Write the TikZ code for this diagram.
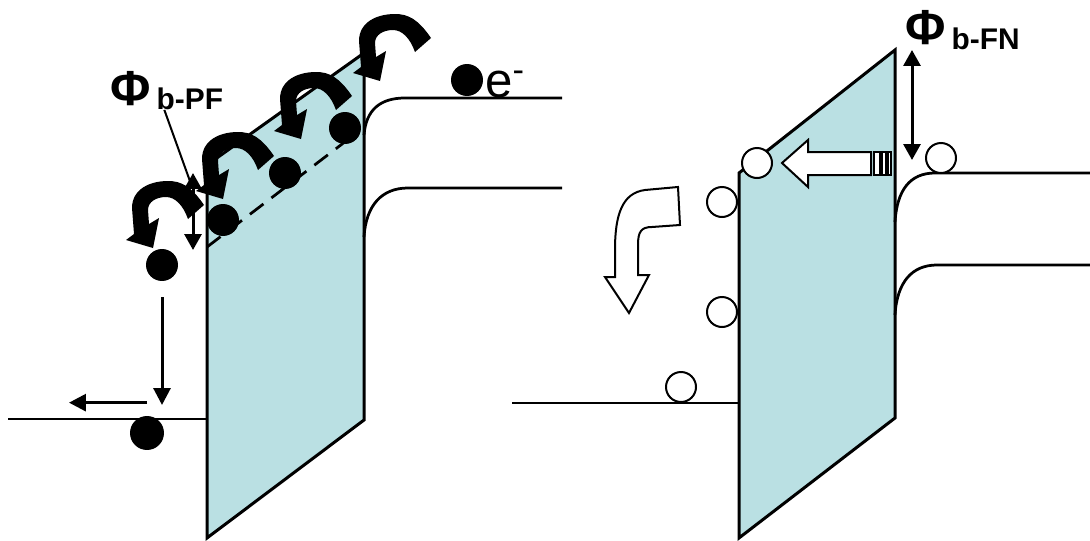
\documentclass[tikz,border=0pt]{standalone}
\usepackage{fontspec}
\setmainfont{Liberation Sans}
\usepackage{tikz}
\usetikzlibrary{arrows.meta, positioning, calc}
\definecolor{oxide}{RGB}{186,224,227}

\begin{document}
\begin{tikzpicture}[
    x=0.02cm, y=-0.02cm,
    oxidebox/.style={draw, line width=0.06cm, fill=oxide, line join=miter},
    bandline/.style={line width=0.055cm},
    electron/.style={circle, fill=black, inner sep=0pt, minimum size=0.64cm},
    hole/.style={circle, draw, fill=white, line width=0.04cm, inner sep=0pt, minimum size=0.6cm},
    arrow/.style={-{Triangle[width=0.34cm, length=0.34cm]}, line width=0.06cm},
    barrier/.style={{Triangle[width=0.34cm, length=0.32cm]}-{Triangle[width=0.34cm, length=0.32cm]}, line width=0.06cm},
    blockarrow/.style={draw, fill=white, line width=0.04cm, line join=miter},
    bigphi/.style={inner sep=0pt, font=\fontsize{28}{28}\selectfont\bfseries},
    subtxt/.style={inner sep=0pt, font=\fontsize{17}{17}\selectfont\bfseries},
    hop/.pic={
        \fill (8,-7) .. controls (-5,-26) and (-15,-31) .. (-28,-31)
            .. controls (-46,-31) and (-64,-23) .. (-64,-4) -- (-62,22)
            -- (-70,28) -- (-43,36) -- (-37,6) -- (-47,12) -- (-48,-2)
            .. controls (-48,-10) and (-40,-15) .. (-30,-15)
            .. controls (-21,-15) and (-13,-7) .. (-8,7) -- cycle;
    }
]
\useasboundingbox (0,0) rectangle (1090,541);

% Poole-Frenkel side
\draw[oxidebox] (207,165) -- (364,53) -- (364,420) -- (207,538) -- cycle;
\draw[bandline] (8,419) -- (207,419);
\draw[bandline] (364,135) .. controls (366,110) and (380,98) .. (405,98) -- (562,98);
\draw[bandline] (364,237) .. controls (366,205) and (382,188) .. (408,188) -- (562,188);
\draw[bandline, dash pattern=on 0.34cm off 0.2cm] (207,247) -- (350,138);

\pic at (196,212) {hop};
\pic at (266,163) {hop};
\pic at (344,103) {hop};
\pic at (423,45) {hop};

\node[electron] (trapA) at (223,220) {};
\node[electron] (trapB) at (285,173) {};
\node[electron] (trapC) at (345,128) {};
\node[electron] (free) at (162,265) {};
\node[electron, minimum size=0.68cm] (metal) at (147,433) {};
\node[electron] (cond) at (467,80) {};
\node[inner sep=0pt, anchor=base west, font=\fontsize{28}{28}\selectfont] (elabel) at (485,97) {e\textsuperscript{-}};

\coordinate (landing) at (162,405);
\draw[arrow] ([yshift=-0.32cm]free.south) -- (landing);
\draw[arrow] ([yshift=0.26cm]metal.north) -- ++(-78,0);

\coordinate (pfTop) at (193,173);
\coordinate (pfBot) at (193,250);
\coordinate (pfPoint) at (191,184);
\draw[barrier] (pfTop) -- (pfBot);
\node[bigphi, anchor=base west] (phiPF) at (110,105) {Φ};
\node[subtxt, base right=3pt of phiPF, yshift=-2.8pt] (subPF) {b-PF};
\draw[line width=0.04cm] ([xshift=0.16cm]subPF.base west) -- (pfPoint);

% Fowler-Nordheim side
\draw[oxidebox] (739,173) -- (895,50) -- (895,418) -- (739,538) -- cycle;
\draw[bandline] (512,403) -- (739,403);
\draw[bandline] (895,222) .. controls (897,190) and (910,173) .. (935,173) -- (1090,173);
\draw[bandline] (895,315) .. controls (897,282) and (912,265) .. (937,265) -- (1090,265);

\node[hole] (hTop) at (757,163) {};
\node[hole] (hMid) at (722,202) {};
\node[hole] (hLow) at (722,312) {};
\node[hole] (hGate) at (681,387) {};
\node[hole] (hSi) at (941,158) {};

\draw[blockarrow] (782,163) -- (808,140) -- (808,152) -- (871,152) -- (871,175)
    -- (808,175) -- (808,187) -- cycle;
\foreach \a/\b in {874/880, 882/886, 888/891}
    \draw[blockarrow, line width=0.03cm] (\a,152) rectangle (\b,175);

\draw[blockarrow] (678,187) -- (645,190) .. controls (622,193) and (615,215) .. (615,250)
    -- (615,277) -- (605,277) -- (629,313) -- (649,275) -- (638,275) -- (638,245)
    .. controls (638,232) and (641,227) .. (652,227) -- (680,225) -- cycle;

\coordinate (fnTop) at (912,50);
\coordinate (fnBot) at (912,160);
\draw[barrier] (fnTop) -- (fnBot);
\node[bigphi, anchor=base west] (phiFN) at (905,45) {Φ};
\node[subtxt, base right=3pt of phiFN, yshift=-2.8pt] (subFN) {b-FN};

\end{tikzpicture}
\end{document}
